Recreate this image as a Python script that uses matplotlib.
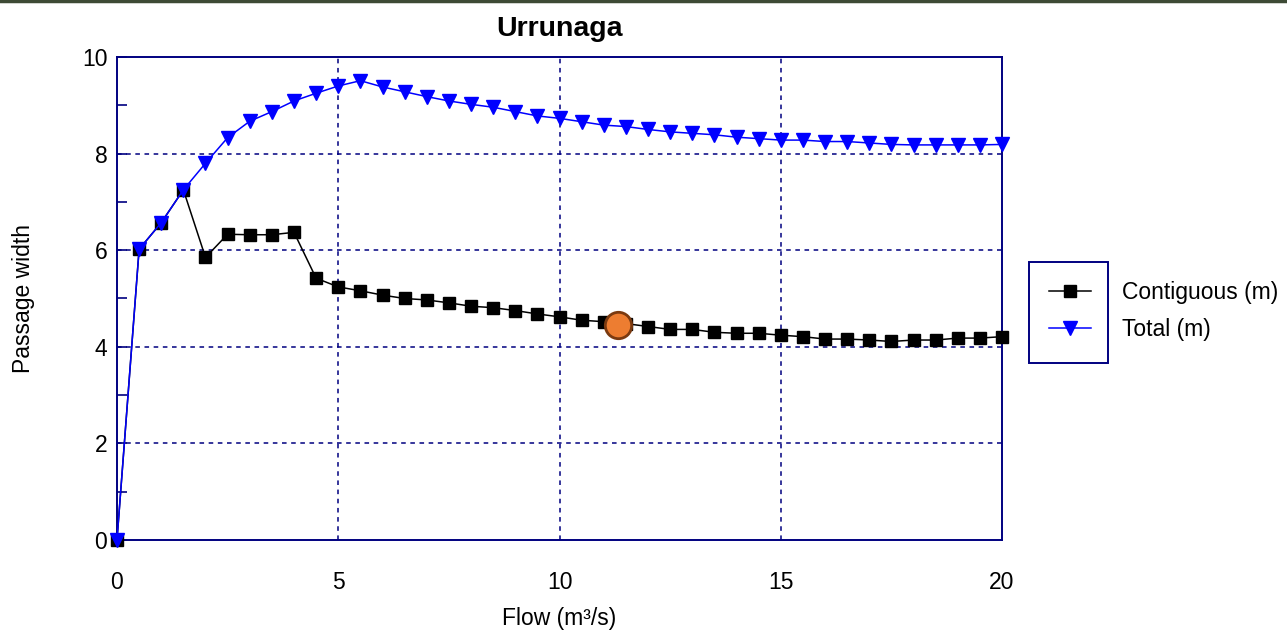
import numpy as np
import matplotlib.pyplot as plt
from matplotlib.lines import Line2D
from matplotlib.patches import Rectangle
from matplotlib.ticker import MultipleLocator

plt.rcParams['font.family'] = ['Liberation Sans', 'DejaVu Sans']

# Flow steps (m3/s)
flow = np.arange(0, 20.5, 0.5)

# Passage width (m) for each flow step
contiguous = [0.0, 6.02, 6.57, 7.25, 5.85, 6.33, 6.32, 6.32, 6.37, 5.42,
              5.24, 5.16, 5.07, 5.00, 4.97, 4.91, 4.84, 4.81, 4.75, 4.68,
              4.62, 4.55, 4.52, 4.48, 4.42, 4.36, 4.36, 4.30, 4.28, 4.28,
              4.24, 4.21, 4.16, 4.16, 4.14, 4.11, 4.14, 4.14, 4.18, 4.18,
              4.21]
total = [0.0, 6.02, 6.57, 7.25, 7.80, 8.33, 8.67, 8.87, 9.09, 9.25,
         9.40, 9.51, 9.38, 9.28, 9.18, 9.09, 9.02, 8.96, 8.87, 8.78,
         8.73, 8.66, 8.59, 8.56, 8.50, 8.45, 8.42, 8.39, 8.34, 8.31,
         8.28, 8.28, 8.25, 8.25, 8.22, 8.19, 8.18, 8.18, 8.18, 8.18,
         8.19]

# Selected operating point
sel_flow = 11.32
sel_width = 4.45

navy = '#000080'
fs = 16.5

fig = plt.figure(figsize=(12.87, 6.30), dpi=100)
ax = fig.add_axes([0.0909, 0.1429, 0.6877, 0.7666])

ax.plot(flow, contiguous, color='black', lw=1.1, marker='s', ms=8,
        label='Contiguous (m)', zorder=3, clip_on=False)
ax.plot(flow, total, color='#0000FF', lw=1.1, marker='v', ms=9.5,
        label='Total (m)', zorder=4, clip_on=False)
ax.plot([sel_flow], [sel_width], marker='o', ms=19, mfc='#ED7D31',
        mec='#7B3A10', mew=2, ls='none', zorder=5)

ax.set_xlim(0, 20)
ax.set_ylim(0, 10)
ax.xaxis.set_major_locator(MultipleLocator(5))
ax.yaxis.set_major_locator(MultipleLocator(2))
ax.yaxis.set_minor_locator(MultipleLocator(1))

for s in ax.spines.values():
    s.set_color(navy)
    s.set_linewidth(1.4)

ax.tick_params(axis='both', which='both', direction='in', color=navy,
               labelsize=fs, width=1.2)
ax.tick_params(axis='y', which='major', length=7, pad=7)
ax.tick_params(axis='y', which='minor', length=7)
ax.tick_params(axis='x', which='major', length=0, pad=22)

# dashed grid, skipping the frame edges
for x in [5, 10, 15]:
    ax.axvline(x, color=navy, lw=1.1, ls=(0, (3, 3)), zorder=1)
for y in [2, 4, 6, 8]:
    ax.axhline(y, color=navy, lw=1.1, ls=(0, (3, 3)), zorder=1)

ax.set_title('Urrunaga', fontsize=20.5, fontweight='bold', pad=15)
ax.set_xlabel('Flow (m³/s)', fontsize=fs, labelpad=10)
ax.set_ylabel('Passage width', fontsize=fs, labelpad=34)

# legend: frame around the handles only, labels to its right
fig.add_artist(Rectangle((1029 / 1287, 1 - 363 / 630), 79 / 1287, 101 / 630,
                         transform=fig.transFigure, fill=False,
                         ec=navy, lw=1.4))
ax.legend(loc='upper left', bbox_to_anchor=(1049 / 1287, 1 - 281 / 630),
          bbox_transform=fig.transFigure, frameon=False, fontsize=fs,
          handlelength=1.83, handletextpad=1.35, labelspacing=0.6,
          borderpad=0, borderaxespad=0)

# thin band along the top edge
fig.add_artist(Line2D([0, 1], [0.998, 0.998], transform=fig.transFigure,
                      color='#3d4a35', lw=2.5))

fig.savefig('out.png', dpi=100)
